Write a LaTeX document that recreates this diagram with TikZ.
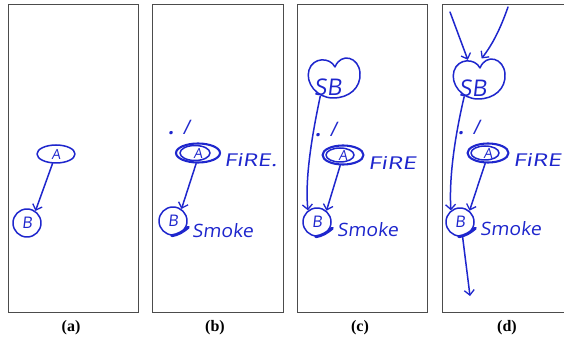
\documentclass[tikz,border=0pt]{standalone}
\usepackage{fontspec}
\usepackage{graphicx}
\setmainfont{Liberation Serif}
\newfontfamily\handfont[FakeSlant=0.12]{Open Sans}
\usetikzlibrary{shapes.geometric,arrows.meta}
\definecolor{ink}{RGB}{30,38,205}
\tikzset{
  pen/.style={draw=ink, line width=1.5pt, line cap=round, line join=round},
  arr/.style={pen, -{Straight Barb[length=5pt,width=10pt,line width=1.3pt]}},
  frame/.style={draw=black!70, line width=0.8pt},
  enode/.style={ellipse, pen, minimum width=38pt, minimum height=18pt, inner sep=0pt,
    text=ink, font=\handfont\fontsize{14}{14}\selectfont},
  bignode/.style={enode, line width=2.1pt, minimum width=44pt, minimum height=19pt},
  cnode/.style={circle, pen, minimum size=28pt, inner sep=0pt,
    text=ink, font=\handfont\fontsize{16}{16}\selectfont},
  blob/.style={ellipse, draw=none, minimum width=53pt, minimum height=41pt, inner sep=0pt},
  sbtext/.style={text=ink, inner sep=0pt, font=\handfont\fontsize{23}{23}\selectfont},
  word/.style={text=ink, inner sep=0pt, anchor=west, font=\handfont\fontsize{15}{15}\selectfont},
  probtext/.style={text=ink, inner sep=0pt, anchor=west, font=\handfont\fontsize{20}{20}\selectfont},
  smear/.style={draw=ink, line width=3pt, line cap=round},
  captext/.style={inner sep=0pt, font=\bfseries\fontsize{16}{16}\selectfont}
}
\begin{document}
\begin{tikzpicture}[x=1pt,y=-1pt]
\useasboundingbox (0,0) rectangle (564,344);
\fill[white] (0,0) rectangle (564,344);

% ---------- (a) ----------
\draw[frame] (8,4) rectangle (138,312);
\node[enode] (aA) at (56,154) {A};
\node[cnode] (aB) at (27,223) {B};
\draw[arr] (aA.-110) -- (aB.55);
\node[captext] (capa) at (71,328) {(a)};

% ---------- (b) ----------
\draw[frame] (152,4) rectangle (283,312);
\node[bignode] (bA) at (198,153) {A};
\draw[pen] ([xshift=-3pt]bA.center) ellipse [x radius=15pt, y radius=7.5pt];
\node[cnode] (bB) at (173,221) {B};
\draw[smear] (bB.-95) .. controls (bB.-70) and (bB.-45) .. ([xshift=2pt]bB.-25);
\draw[arr] (bA.-100) -- (bB.55);
\node[probtext] (bP) at (168,127) {\textbf{.}\hspace{9pt}/};
\node[word] (bF) at (224,160) {\resizebox{53pt}{13pt}{FiRE.}};
\node[word] (bS) at (192,231) {\resizebox{61pt}{14pt}{Smoke}};
\node[captext] (capb) at (215,328) {(b)};

% ---------- (c) ----------
\draw[frame] (297,4) rectangle (427,312);
\node[blob] (cSB) at (333,78) {};
\node[sbtext] (cSBt) at (328,87) {SB};
\begin{scope}[shift={(cSB.center)}]
  \draw[pen] (2,-11) .. controls (-3,-21) and (-20,-21) .. (-24,-8)
    .. controls (-28,5) and (-16,20) .. (0,20)
    .. controls (16,20) and (28,10) .. (27,-5)
    .. controls (26,-21) and (8,-26) .. (2,-11);
\end{scope}
\node[bignode, minimum width=41pt] (cA) at (343,155) {A};
\draw[pen] ([xshift=-3pt]cA.center) ellipse [x radius=14pt, y radius=7pt];
\node[cnode] (cB) at (317,222) {B};
\draw[smear] (cB.-95) .. controls (cB.-70) and (cB.-45) .. ([xshift=2pt]cB.-25);
\draw[arr] (cSB.235) .. controls (311,140) and (305,180) .. (cB.128);
\draw[arr] (cA.-105) -- (cB.50);
\node[probtext] (cP) at (315,129) {\textbf{.}\hspace{9pt}/};
\node[word] (cF) at (368,163) {\resizebox{48pt}{13pt}{FiRE}};
\node[word] (cS) at (337,230) {\resizebox{61pt}{14pt}{Smoke}};
\node[captext] (capc) at (360,328) {(c)};

% ---------- (d) ----------
\draw[frame] (442,4) rectangle (575,312);
\node[blob] (dSB) at (478,79) {};
\node[sbtext] (dSBt) at (473,88) {SB};
\begin{scope}[shift={(dSB.center)}]
  \draw[pen] (2,-11) .. controls (-3,-21) and (-20,-21) .. (-24,-8)
    .. controls (-28,5) and (-16,20) .. (0,20)
    .. controls (16,20) and (28,10) .. (27,-5)
    .. controls (26,-21) and (8,-26) .. (2,-11);
\end{scope}
\coordinate (dIn1) at (450,12);
\coordinate (dIn2) at (508,7);
\coordinate (dOut) at (470,296);
\draw[arr] (dIn1) -- (dSB.118);
\draw[arr] (dIn2) .. controls (500,30) and (492,45) .. (dSB.80);
\node[bignode, minimum width=41pt] (dA) at (488,153) {A};
\draw[pen] ([xshift=-3pt]dA.center) ellipse [x radius=14pt, y radius=7pt];
\node[cnode] (dB) at (460,222) {B};
\draw[smear] (dB.-95) .. controls (dB.-70) and (dB.-45) .. ([xshift=2pt]dB.-25);
\draw[arr] (dSB.232) .. controls (454,140) and (449,180) .. (dB.128);
\draw[arr] (dA.-105) -- (dB.50);
\draw[arr] (dB.-80) -- (dOut);
\node[probtext] (dP) at (458,127) {\textbf{.}\hspace{9pt}/};
\node[word] (dF) at (513,160) {\resizebox{48pt}{13pt}{FiRE}};
\node[word] (dS) at (480,229) {\resizebox{61pt}{14pt}{Smoke}};
\node[captext] (capd) at (507,328) {(d)};
\end{tikzpicture}
\end{document}
